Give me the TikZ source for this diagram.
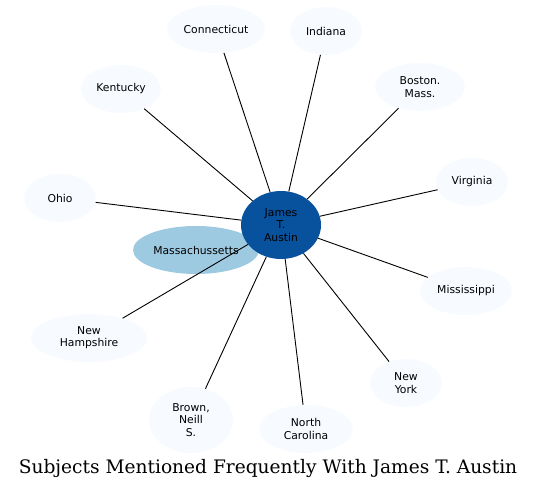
\documentclass[tikz,border=0pt]{standalone}
\usepackage{fontspec}
\setmainfont{DejaVu Serif}
\setsansfont{DejaVu Sans}
\usetikzlibrary{shapes.geometric}
\definecolor{palebg}{HTML}{F7FBFF}
\definecolor{midblue}{HTML}{9ECAE1}
\definecolor{darkblue}{HTML}{08519C}

\begin{document}
\begin{tikzpicture}[
    x=1pt, y=-1pt,
    every node/.style={ellipse, inner sep=0pt, align=center, font=\sffamily\fontsize{10.8}{12.3}\selectfont},
    subject/.style={fill=palebg, minimum height=48pt},
    link/.style={black, line width=0.9pt}
]
\useasboundingbox (0,0) rectangle (537,489);
\node (mass) [fill=midblue, minimum width=126pt, minimum height=48pt] at (196,250) {Massachussetts};
\node (austin) [fill=darkblue, minimum width=80pt, minimum height=68pt] at (281,225) {James\\T.\\Austin};
\node (conn) [subject, minimum width=98pt] at (216,29) {Connecticut};
\node (ind) [subject, minimum width=72pt] at (326,31) {Indiana};
\node (bos) [subject, minimum width=90pt] at (420,87) {Boston.\\Mass.};
\node (ken) [subject, minimum width=80pt] at (121,89) {Kentucky};
\node (vir) [subject, minimum width=72pt] at (472,182) {Virginia};
\node (ohio) [subject, minimum width=72pt] at (60,198) {Ohio};
\node (miss) [subject, minimum width=92pt] at (466,291) {Mississippi};
\node (nh) [subject, minimum width=116pt] at (89,338) {New\\Hampshire};
\node (ny) [subject, minimum width=72pt] at (406,383) {New\\York};
\node (brown) [subject, minimum width=84pt, minimum height=66pt] at (191,420) {Brown,\\Neill\\S.};
\node (nc) [subject, minimum width=94pt] at (306,429) {North\\Carolina};
\foreach \t in {conn,ind,bos,ken,vir,ohio,miss,nh,ny,brown,nc}
    \draw[link] (austin) -- (\t);
\node (title) [rectangle, font=\rmfamily\fontsize{18.6}{20}\selectfont] at (268,468) {Subjects Mentioned Frequently With James T. Austin};
\end{tikzpicture}
\end{document}
